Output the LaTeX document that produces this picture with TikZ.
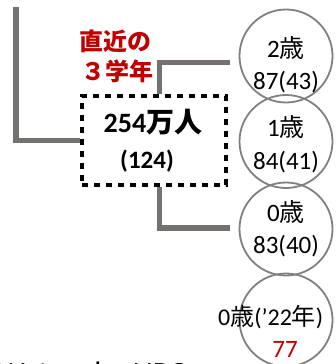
\documentclass[tikz,border=0pt]{standalone}
\usepackage{fontspec}
\setmainfont{Carlito}
\newfontfamily\jp{Noto Sans CJK JP}
\usetikzlibrary{calc}
\definecolor{conngray}{RGB}{118,113,113}
\definecolor{circgray}{RGB}{128,128,128}
\definecolor{darkred}{RGB}{192,0,0}
\tikzset{
  conn/.style={draw=conngray, line width=5.5pt},
  agecircle/.style={circle, draw=circgray, line width=1.8pt, minimum size=93pt, inner sep=0pt},
  agetext/.style={anchor=base, inner sep=0pt, font=\fontsize{25}{28}\selectfont},
  boxtext/.style={anchor=base, inner sep=0pt, font=\fontsize{28}{32}\selectfont\bfseries},
  redtext/.style={anchor=base, inner sep=0pt, text=darkred, font=\fontsize{24}{28}\selectfont\jp\bfseries},
  dotbox/.style={draw=black, line width=4.5pt, dash pattern=on 6pt off 6pt, minimum width=144pt, minimum height=89pt, inner sep=0pt}
}
\begin{document}
\begin{tikzpicture}[x=1pt, y=-1pt]
\useasboundingbox (0,0) rectangle (335,364);
\clip (0,0) rectangle (335,364);
% circles
\node[agecircle] (c1) at (286,56) {};
\node[agecircle] (c2) at (286,141.5) {};
\node[agecircle] (c3) at (286,229) {};
\node[agecircle] (c4) at (286,320) {};
% box
\node[dotbox] (box) at (154,140.5) {};
\coordinate (ltop) at (16,7);
% connectors
\draw[conn] (ltop) |- (box.west);
\draw[conn, shorten >=9pt] ([xshift=5.5pt]box.north) |- ([yshift=-6.5pt]c1.west);
\draw[conn, shorten >=9pt] ([xshift=5.5pt]box.south) |- ([yshift=1pt]c3.west);
% redraw box on top
\node[dotbox] at (box.center) {};
% box texts
\node[boxtext] (t1) at (153,132) {254{\jp 万人}};
\node[boxtext, font=\fontsize{25}{30}\selectfont\bfseries] (t2) at (147,168) {(124)};
% red texts
\node[redtext] (r1) at (115,50) {直近の};
\node[redtext] (r2) at (117,80) {３学年};
% circle texts
\node[agetext] (a1) at (286,57) {2{\jp 歳}};
\node[agetext] (b1) at (286,89) {87(43)};
\node[agetext] (a2) at (286,136) {1{\jp 歳}};
\node[agetext] (b2) at (286,169) {84(41)};
\node[agetext] (a3) at (286,221) {0{\jp 歳}};
\node[agetext] (b3) at (286,253) {83(40)};
\node[agetext, anchor=base west, font=\fontsize{24}{28}\selectfont] (a4) at (218,325) {0{\jp 歳}('22{\jp 年})};
\node[agetext, text=darkred] (b4) at (285,357) {77};
% bottom cut-off text
\node[anchor=base west, inner sep=0pt, font=\fontsize{31}{36}\selectfont] (src) at (-3,383) {Watanabe NPO};
\end{tikzpicture}
\end{document}
